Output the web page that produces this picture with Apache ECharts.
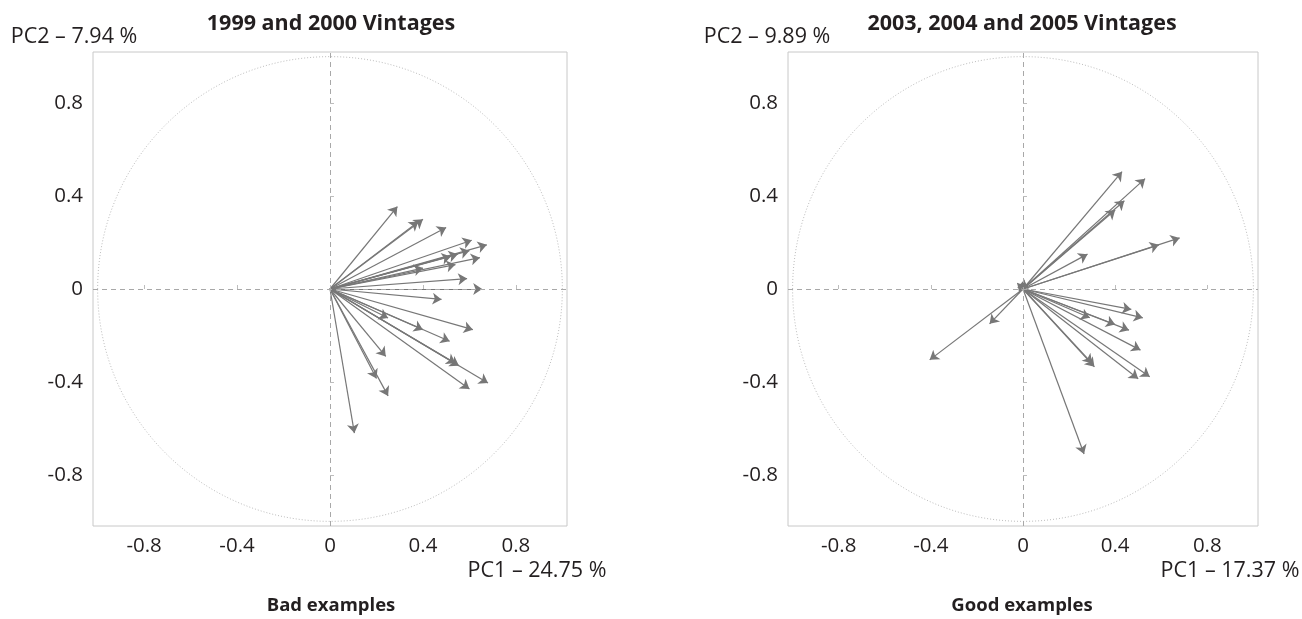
<!DOCTYPE html>
<html>
<head>
<meta charset="utf-8">
<script src="https://cdn.jsdelivr.net/npm/echarts@6/dist/echarts.min.js"></script>
<style>
html,body{margin:0;padding:0;background:#fff;}
#chart{width:1302px;height:619px;}
</style>
</head>
<body>
<div id="chart"></div>
<script>
// ---- data ----
const tickValues = [-0.8, -0.4, 0, 0.4, 0.8];
const tickLabels = ['-0.8', '-0.4', '0', '0.4', '0.8'];

// Left panel: 1999 and 2000 vintages (arrow tips, PC1 / PC2 loadings)
const leftPC1 = [0.29, 0.38, 0.40, 0.50, 0.61, 0.675, 0.60, 0.55, 0.52, 0.645, 0.54, 0.40, 0.59, 0.655,
                 0.48, 0.25, 0.40, 0.615, 0.515, 0.24, 0.555, 0.54, 0.20, 0.25, 0.60, 0.68, 0.105];
const leftPC2 = [0.355, 0.29, 0.30, 0.265, 0.21, 0.19, 0.165, 0.15, 0.14, 0.135, 0.105, 0.09, 0.045, 0.0,
                 -0.045, -0.125, -0.175, -0.175, -0.225, -0.29, -0.33, -0.32, -0.385, -0.46, -0.43, -0.405, -0.62];

// Right panel: 2003, 2004 and 2005 vintages
const rightPC1 = [0.43, 0.53, 0.44, 0.40, 0.68, 0.59, 0.28, -0.025, 0.005, -0.405, -0.145, 0.265,
                  0.47, 0.52, 0.29, 0.40, 0.46, 0.51, 0.31, 0.30, 0.50, 0.55];
const rightPC2 = [0.505, 0.475, 0.38, 0.34, 0.22, 0.19, 0.15, 0.025, 0.04, -0.305, -0.15, -0.71,
                  -0.088, -0.124, -0.124, -0.153, -0.177, -0.263, -0.335, -0.32, -0.386, -0.378];

const panelTitles = ['1999 and 2000 Vintages', '2003, 2004 and 2005 Vintages'];
const pc1Names = ['PC1 – 24.75 %', 'PC1 – 17.37 %'];
const pc2Names = ['PC2 – 7.94 %', 'PC2 – 9.89 %'];
const captions = ['Bad examples', 'Good examples'];

// ---- chart ----
const FONT = '"Open Sans", "Noto Sans", sans-serif';
const TEXT = '#231f20';
const chart = echarts.init(document.getElementById('chart'));

function arrows(xs, ys) {
  return xs.map((x, i) => ({ coords: [[0, 0], [x, ys[i]]] }));
}

function makeAxis(type, idx) {
  return {
    type: 'value',
    gridIndex: idx,
    min: -1.02,
    max: 1.02,
    axisLine: { show: false },
    splitLine: { show: false },
    axisTick: {
      show: true, inside: true, length: 4,
      customValues: tickValues,
      lineStyle: { color: '#bdbdbd' }
    },
    axisLabel: {
      show: true,
      customValues: tickValues,
      formatter: v => tickLabels[tickValues.findIndex(t => Math.abs(t - v) < 1e-6)] ?? '',
      color: TEXT,
      fontFamily: FONT,
      fontSize: 20.5,
      margin: 10
    }
  };
}

const grids = [
  { left: 93, right: 735, top: 52, bottom: 93 },
  { left: 788, right: 44, top: 52, bottom: 93 }
];

const series = [];
[[leftPC1, leftPC2], [rightPC1, rightPC2]].forEach(([xs, ys], g) => {
  // unit circle (dotted)
  series.push({
    type: 'custom',
    xAxisIndex: g, yAxisIndex: g,
    silent: true,
    z: 1,
    data: [[0, 0]],
    renderItem: (params, api) => {
      const c = api.coord([0, 0]);
      const rx = api.size([1, 0])[0];
      const ry = api.size([0, 1])[1];
      return {
        type: 'ellipse',
        shape: { cx: c[0], cy: c[1], rx: rx, ry: ry },
        style: { fill: 'none', stroke: '#bdbdbd', lineWidth: 1, lineDash: [1, 2] }
      };
    }
  });
  // arrows
  series.push({
    type: 'lines',
    coordinateSystem: 'cartesian2d',
    xAxisIndex: g, yAxisIndex: g,
    silent: true,
    z: 3,
    symbol: ['none', 'arrow'],
    symbolSize: [6, 9],
    lineStyle: { color: '#777777', width: 1.2, opacity: 1 },
    data: arrows(xs, ys),
    markLine: {
      silent: true,
      symbol: 'none',
      label: { show: false },
      lineStyle: { color: '#a8a8a8', type: [5, 4], width: 1 },
      data: [{ xAxis: 0 }, { yAxis: 0 }]
    }
  });
});

const graphic = [];
const centers = [331, 1022];
const pc2X = [74, 767];
const pc1X = [537, 1230];
for (let i = 0; i < 2; i++) {
  graphic.push({ type: 'text', x: centers[i], y: 24, style: { text: panelTitles[i], font: 'bold 21.5px ' + FONT, fill: TEXT, textAlign: 'center', textVerticalAlign: 'middle' } });
  graphic.push({ type: 'text', x: pc2X[i], y: 37, style: { text: pc2Names[i], font: '21.5px ' + FONT, fill: TEXT, textAlign: 'center', textVerticalAlign: 'middle' } });
  graphic.push({ type: 'text', x: pc1X[i], y: 571, style: { text: pc1Names[i], font: '21.5px ' + FONT, fill: TEXT, textAlign: 'center', textVerticalAlign: 'middle' } });
  graphic.push({ type: 'text', x: centers[i], y: 606, style: { text: captions[i], font: 'bold 18.5px ' + FONT, fill: TEXT, textAlign: 'center', textVerticalAlign: 'middle' } });
}

chart.setOption({
  backgroundColor: '#ffffff',
  animation: false,
  grid: grids.map(g => Object.assign({ show: true, borderColor: '#c8c8c8', borderWidth: 1, backgroundColor: 'transparent' }, g)),
  xAxis: [makeAxis('x', 0), makeAxis('x', 1)],
  yAxis: [makeAxis('y', 0), makeAxis('y', 1)],
  series: series,
  graphic: graphic
});
</script>
</body>
</html>
